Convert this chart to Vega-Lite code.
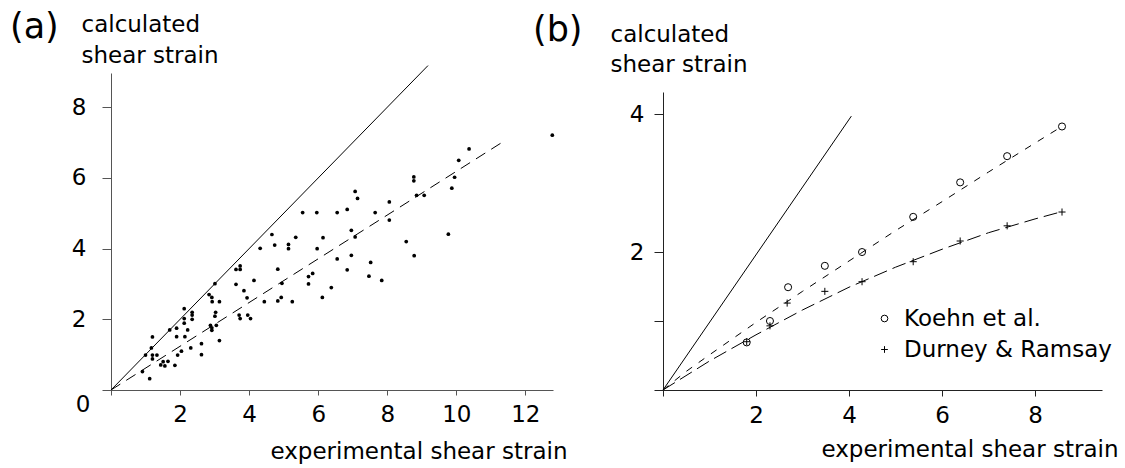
{
  "$schema": "https://vega.github.io/schema/vega-lite/v6.json",
  "padding": {"left": 10, "top": 10, "right": 0, "bottom": 0},
  "background": "white",
  "config": {
    "font": "DejaVu Sans",
    "view": {"stroke": null},
    "title": {"font": "DejaVu Sans", "fontWeight": "normal", "color": "#000"},
    "legend": {"labelFont": "DejaVu Sans", "titleFont": "DejaVu Sans"},
    "axis": {
      "labelFont": "DejaVu Sans", "titleFont": "DejaVu Sans", "titleFontWeight": "normal",
      "grid": false, "labelColor": "#000", "titleColor": "#000",
      "labelFontSize": 23, "titleFontSize": 23,
      "labelOverlap": false, "labelBound": false, "labelFlush": false,
      "domainWidth": 1, "tickWidth": 1
    }
  },
  "datasets": {
    "scatterA": [
      {"x": 0.91, "y": 0.52}, {"x": 1.12, "y": 0.32}, {"x": 1.0, "y": 0.99}, {"x": 1.17, "y": 1.19},
      {"x": 1.2, "y": 1.5}, {"x": 1.2, "y": 0.88}, {"x": 1.2, "y": 0.99}, {"x": 1.33, "y": 0.99},
      {"x": 1.44, "y": 0.71}, {"x": 1.51, "y": 0.8}, {"x": 1.56, "y": 0.68}, {"x": 1.65, "y": 0.81},
      {"x": 1.7, "y": 1.7}, {"x": 1.85, "y": 0.7}, {"x": 1.9, "y": 1.75}, {"x": 1.9, "y": 1.51},
      {"x": 1.93, "y": 0.99}, {"x": 2.04, "y": 1.1}, {"x": 2.12, "y": 2.3}, {"x": 2.12, "y": 2.02},
      {"x": 2.12, "y": 1.89}, {"x": 2.14, "y": 1.51}, {"x": 2.22, "y": 1.7}, {"x": 2.31, "y": 1.19},
      {"x": 2.35, "y": 2.2}, {"x": 2.35, "y": 2.12}, {"x": 2.35, "y": 2.0}, {"x": 2.62, "y": 1.31},
      {"x": 2.62, "y": 1.0}, {"x": 2.84, "y": 2.7}, {"x": 2.92, "y": 2.62}, {"x": 2.93, "y": 2.5},
      {"x": 2.88, "y": 1.83}, {"x": 2.92, "y": 1.76}, {"x": 2.92, "y": 1.69}, {"x": 3.01, "y": 3.01},
      {"x": 3.03, "y": 2.2}, {"x": 3.01, "y": 2.09}, {"x": 3.05, "y": 1.83}, {"x": 3.14, "y": 2.5},
      {"x": 3.14, "y": 1.4}, {"x": 3.62, "y": 3.41}, {"x": 3.74, "y": 3.51}, {"x": 3.74, "y": 3.41},
      {"x": 3.62, "y": 2.99}, {"x": 3.71, "y": 2.12}, {"x": 3.74, "y": 2.02}, {"x": 3.85, "y": 2.81},
      {"x": 3.94, "y": 2.61}, {"x": 3.96, "y": 2.12}, {"x": 4.04, "y": 2.02}, {"x": 4.14, "y": 3.1},
      {"x": 4.32, "y": 4.01}, {"x": 4.44, "y": 2.5}, {"x": 4.66, "y": 4.4}, {"x": 4.74, "y": 4.1},
      {"x": 4.83, "y": 3.42}, {"x": 4.83, "y": 2.52}, {"x": 4.95, "y": 3.02}, {"x": 4.93, "y": 2.62},
      {"x": 5.14, "y": 4.12}, {"x": 5.14, "y": 4.0}, {"x": 5.25, "y": 2.5}, {"x": 5.35, "y": 4.32},
      {"x": 5.72, "y": 3.21}, {"x": 5.72, "y": 3.0}, {"x": 5.84, "y": 3.3}, {"x": 5.97, "y": 4.0},
      {"x": 5.55, "y": 5.02}, {"x": 5.96, "y": 5.02}, {"x": 6.55, "y": 5.02}, {"x": 6.84, "y": 5.11},
      {"x": 7.07, "y": 5.62}, {"x": 7.14, "y": 5.42}, {"x": 7.65, "y": 5.02}, {"x": 8.06, "y": 5.32},
      {"x": 8.06, "y": 4.81}, {"x": 8.77, "y": 6.03}, {"x": 8.77, "y": 5.92}, {"x": 8.85, "y": 5.51},
      {"x": 9.07, "y": 5.51}, {"x": 9.95, "y": 6.02}, {"x": 9.87, "y": 5.71}, {"x": 10.07, "y": 6.5},
      {"x": 10.37, "y": 6.82}, {"x": 12.78, "y": 7.21}, {"x": 6.96, "y": 4.52}, {"x": 6.14, "y": 4.31},
      {"x": 7.07, "y": 4.33}, {"x": 6.55, "y": 3.71}, {"x": 6.96, "y": 3.81}, {"x": 6.84, "y": 3.4},
      {"x": 7.52, "y": 3.61}, {"x": 7.47, "y": 3.22}, {"x": 7.84, "y": 3.1}, {"x": 6.38, "y": 2.9},
      {"x": 6.12, "y": 2.62}, {"x": 8.55, "y": 4.2}, {"x": 8.78, "y": 3.8}, {"x": 9.77, "y": 4.41}
    ],
    "linesA": [
      {"line": "identity", "x": 0, "y": 0}, {"line": "identity", "x": 9.18, "y": 9.18},
      {"line": "fit", "x": 0, "y": 0}, {"line": "fit", "x": 11.33, "y": 7.01}
    ],
    "pointsB": [
      {"series": "Koehn et al.", "x": 1.8, "y": 0.69}, {"series": "Koehn et al.", "x": 2.3, "y": 1.0},
      {"series": "Koehn et al.", "x": 2.69, "y": 1.49}, {"series": "Koehn et al.", "x": 3.48, "y": 1.8},
      {"series": "Koehn et al.", "x": 4.28, "y": 2.0}, {"series": "Koehn et al.", "x": 5.38, "y": 2.51},
      {"series": "Koehn et al.", "x": 6.39, "y": 3.01}, {"series": "Koehn et al.", "x": 7.4, "y": 3.39},
      {"series": "Koehn et al.", "x": 8.58, "y": 3.82},
      {"series": "Durney & Ramsay", "x": 1.8, "y": 0.7}, {"series": "Durney & Ramsay", "x": 2.3, "y": 0.93},
      {"series": "Durney & Ramsay", "x": 2.67, "y": 1.26}, {"series": "Durney & Ramsay", "x": 3.48, "y": 1.43},
      {"series": "Durney & Ramsay", "x": 4.28, "y": 1.57}, {"series": "Durney & Ramsay", "x": 5.38, "y": 1.86},
      {"series": "Durney & Ramsay", "x": 6.39, "y": 2.16}, {"series": "Durney & Ramsay", "x": 7.4, "y": 2.38},
      {"series": "Durney & Ramsay", "x": 8.58, "y": 2.58}
    ],
    "linesB": [
      {"line": "identity", "x": 0, "y": 0}, {"line": "identity", "x": 4.05, "y": 3.97},
      {"line": "koehn", "x": 0, "y": 0}, {"line": "koehn", "x": 0.5, "y": 0.27}, {"line": "koehn", "x": 1, "y": 0.51},
      {"line": "koehn", "x": 2, "y": 0.98}, {"line": "koehn", "x": 3, "y": 1.43}, {"line": "koehn", "x": 4, "y": 1.87},
      {"line": "koehn", "x": 5, "y": 2.31}, {"line": "koehn", "x": 6, "y": 2.73}, {"line": "koehn", "x": 7, "y": 3.16},
      {"line": "koehn", "x": 8, "y": 3.58}, {"line": "koehn", "x": 8.6, "y": 3.83},
      {"line": "durney", "x": 0, "y": 0}, {"line": "durney", "x": 1, "y": 0.42}, {"line": "durney", "x": 2, "y": 0.8},
      {"line": "durney", "x": 3, "y": 1.16}, {"line": "durney", "x": 4, "y": 1.49}, {"line": "durney", "x": 5, "y": 1.78},
      {"line": "durney", "x": 6, "y": 2.04}, {"line": "durney", "x": 7, "y": 2.28}, {"line": "durney", "x": 8, "y": 2.48},
      {"line": "durney", "x": 8.6, "y": 2.59}
    ]
  },
  "bounds": "flush",
  "spacing": 110,
  "hconcat": [
    {
      "width": 442,
      "height": 317,
      "title": {"text": "(a)", "anchor": "start", "frame": "group", "fontSize": 35, "fontWeight": "normal", "dx": -101, "dy": 36},
      "encoding": {
        "x": {
          "field": "x", "type": "quantitative",
          "scale": {"domain": [0, 12.8], "nice": false, "zero": true},
          "axis": {
            "values": [0, 2, 4, 6, 8, 10, 12],
            "labelExpr": "datum.value == 0 ? '' : datum.label",
            "tickSize": 5, "labelPadding": 8,
            "domainColor": "#555", "tickColor": "#555",
            "title": "experimental shear strain",
            "titleAlign": "right", "titleX": 456, "titleY": 68.5, "titleBaseline": "alphabetic"
          }
        },
        "y": {
          "field": "y", "type": "quantitative",
          "scale": {"domain": [0, 8.97], "nice": false, "zero": true},
          "axis": {
            "values": [0, 2, 4, 6, 8],
            "tickSize": 9,
            "labelPadding": {"condition": {"test": "datum.value == 0", "value": 12}, "value": 16},
            "labelOffset": {"condition": {"test": "datum.value == 0", "value": 14}, "value": 0},
            "domainColor": "#555", "tickColor": "#555",
            "title": ["calculated", "shear strain"],
            "titleAngle": 0, "titleAlign": "left", "titleBaseline": "alphabetic",
            "titleX": -30, "titleY": -42, "titleLineHeight": 31
          }
        }
      },
      "layer": [
        {
          "data": {"name": "linesA"},
          "transform": [{"filter": "datum.line == 'identity'"}],
          "mark": {"type": "line", "color": "#000", "strokeWidth": 1}
        },
        {
          "data": {"name": "linesA"},
          "transform": [{"filter": "datum.line == 'fit'"}],
          "mark": {"type": "line", "color": "#000", "strokeWidth": 1, "strokeDash": [11, 7]}
        },
        {
          "data": {"name": "scatterA"},
          "mark": {"type": "point", "filled": true, "size": 14, "color": "#000", "opacity": 1}
        }
      ]
    },
    {
      "width": 439,
      "height": 317,
      "title": {"text": "(b)", "anchor": "start", "frame": "group", "fontSize": 35, "fontWeight": "normal", "dx": -130, "dy": 29},
      "encoding": {
        "x": {
          "field": "x", "type": "quantitative",
          "scale": {"domain": [0, 9.44], "nice": false, "zero": true},
          "axis": {
            "values": [0, 2, 4, 6, 8],
            "labelExpr": "datum.value == 0 ? '' : datum.label",
            "tickSize": 6, "labelPadding": 8,
            "domainColor": "#222", "tickColor": "#222",
            "title": "experimental shear strain",
            "titleAlign": "right", "titleX": 455, "titleY": 66, "titleBaseline": "alphabetic"
          }
        },
        "y": {
          "field": "y", "type": "quantitative",
          "scale": {"domain": [0, 4.32], "range": [317, 19], "nice": false, "zero": true},
          "axis": {
            "values": [0, 1, 2, 4],
            "labelExpr": "datum.value == 2 || datum.value == 4 ? datum.label : ''",
            "tickSize": 9, "labelPadding": 10,
            "domainColor": "#222", "tickColor": "#222",
            "title": ["calculated", "shear strain"],
            "titleAngle": 0, "titleAlign": "left", "titleBaseline": "alphabetic",
            "titleX": -53, "titleY": -32, "titleLineHeight": 30
          }
        }
      },
      "layer": [
        {
          "data": {"name": "linesB"},
          "transform": [{"filter": "datum.line == 'identity'"}],
          "mark": {"type": "line", "color": "#000", "strokeWidth": 1}
        },
        {
          "data": {"name": "linesB"},
          "transform": [{"filter": "datum.line == 'koehn'"}],
          "mark": {"type": "line", "color": "#000", "strokeWidth": 1, "strokeDash": [7, 8]}
        },
        {
          "data": {"name": "linesB"},
          "transform": [{"filter": "datum.line == 'durney'"}],
          "mark": {"type": "line", "color": "#000", "strokeWidth": 1, "strokeDash": [14, 6]}
        },
        {
          "data": {"name": "pointsB"},
          "mark": {"type": "point", "filled": false, "size": 50, "color": "#000", "strokeWidth": 1, "opacity": 1},
          "encoding": {
            "shape": {
              "field": "series", "type": "nominal",
              "scale": {"domain": ["Koehn et al.", "Durney & Ramsay"], "range": ["circle", "M-1,0H1M0,-1V1"]},
              "legend": {
                "orient": "none", "legendX": 762, "legendY": 234, "title": null,
                "labelFontSize": 23, "symbolSize": 45, "symbolStrokeWidth": 1,
                "symbolStrokeColor": "#000", "symbolFillColor": "transparent",
                "labelOffset": 8, "rowPadding": 7, "padding": 0, "labelColor": "#000", "labelLimit": 0
              }
            }
          }
        }
      ]
    }
  ]
}
